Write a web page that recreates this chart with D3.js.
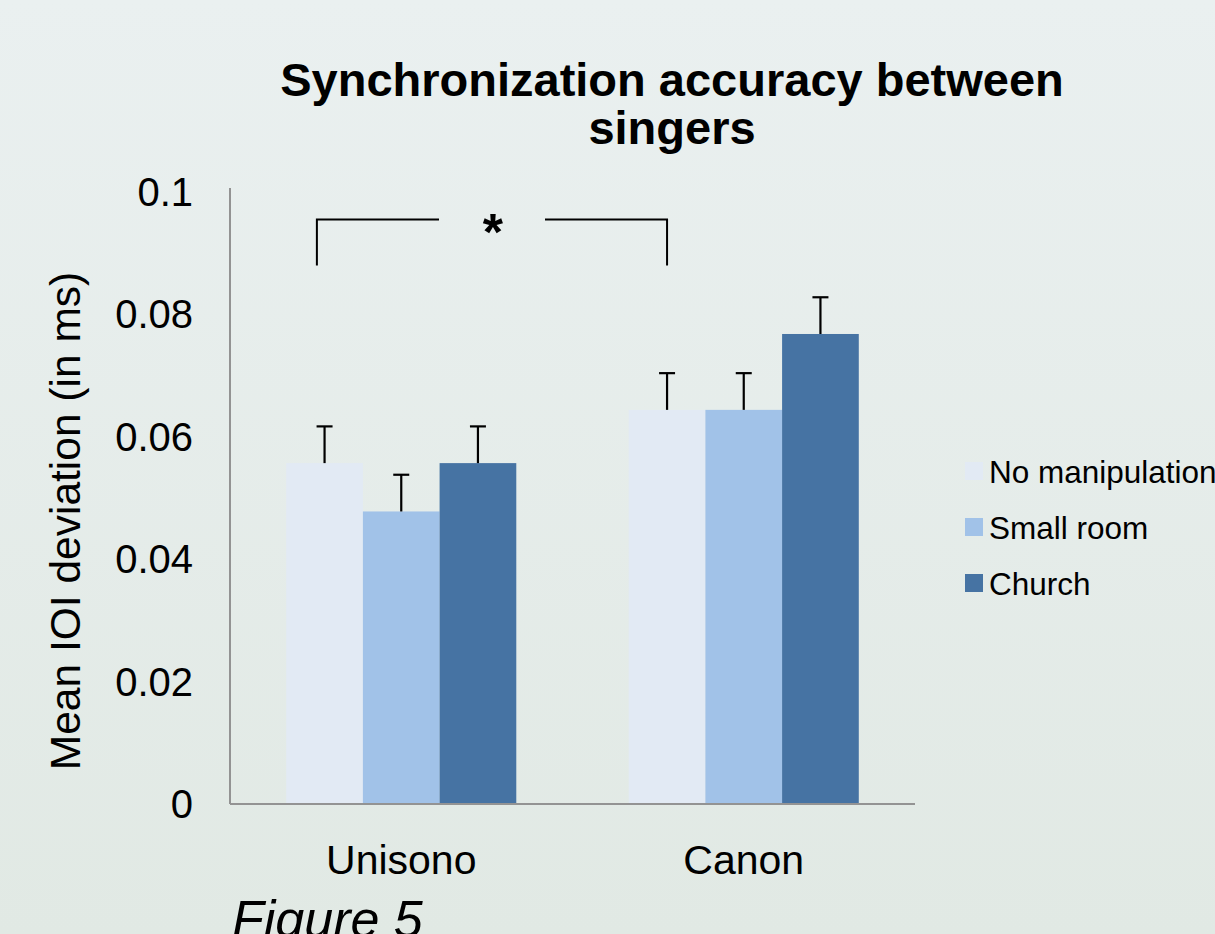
<!DOCTYPE html>
<html>
<head>
<meta charset="utf-8">
<script src="https://cdn.jsdelivr.net/npm/d3@7"></script>
<style>
  html, body { margin: 0; padding: 0; }
  body { width: 1215px; height: 934px; overflow: hidden; }
  svg text { font-family: "Liberation Sans", Arial, sans-serif; fill: #000; }
</style>
</head>
<body>
<svg id="chart" width="1215" height="934"></svg>
<script>
// Chart data
const categories = ["Unisono", "Canon"];
const series = ["No manipulation", "Small room", "Church"];
const unisonoValues = [0.0557, 0.0478, 0.0557];
const canonValues = [0.0644, 0.0644, 0.0768];
const unisonoErrors = [0.006, 0.006, 0.006];
const canonErrors = [0.006, 0.006, 0.006];
const yTicks = [0, 0.02, 0.04, 0.06, 0.08, 0.1];
const yTickLabels = ["0", "0.02", "0.04", "0.06", "0.08", "0.1"];
const seriesColors = ["#e2eaf4", "#a1c2e8", "#4673a3"];

const svg = d3.select("#chart");
const W = 1215, H = 934;

// background
const defs = svg.append("defs");
const grad = defs.append("linearGradient").attr("id", "bg").attr("x1", 0).attr("y1", 0).attr("x2", 0).attr("y2", 1);
grad.append("stop").attr("offset", "0%").attr("stop-color", "#eaf0f0");
grad.append("stop").attr("offset", "100%").attr("stop-color", "#e1e9e4");
svg.append("rect").attr("width", W).attr("height", H).attr("fill", "url(#bg)");

const plot = { left: 230, right: 915, top: 192, bottom: 804 };

const x0 = d3.scaleBand().domain(categories).range([plot.left, plot.right]).padding(0);
const x1 = d3.scaleBand().domain(series).range([0, x0.bandwidth()]).paddingInner(0).paddingOuter(0.733);
const y = d3.scaleLinear().domain([0, 0.1]).range([plot.bottom, plot.top]);
const color = d3.scaleOrdinal().domain(series).range(seriesColors);

const rows = [
  { cat: "Unisono", values: unisonoValues, errors: unisonoErrors },
  { cat: "Canon", values: canonValues, errors: canonErrors }
];
const bars = [];
rows.forEach(r => series.forEach((s, i) => bars.push({ cat: r.cat, series: s, value: r.values[i], err: r.errors[i] })));

// title
const title = svg.append("text").attr("text-anchor", "middle")
  .style("font-size", "47px").style("font-weight", "bold");
title.append("tspan").attr("x", 672).attr("y", 96).text("Synchronization accuracy between");
title.append("tspan").attr("x", 672).attr("y", 144).text("singers");

// bars
const g = svg.append("g");
g.selectAll("rect.bar").data(bars).enter().append("rect")
  .attr("class", "bar")
  .attr("x", d => x0(d.cat) + x1(d.series))
  .attr("y", d => y(d.value))
  .attr("width", x1.bandwidth())
  .attr("height", d => y(0) - y(d.value))
  .attr("fill", d => color(d.series));

// error bars (upper only)
const capW = 16;
const eb = g.selectAll("g.err").data(bars).enter().append("g").attr("class", "err")
  .attr("stroke", "#000").attr("stroke-width", 2.2);
eb.append("line")
  .attr("x1", d => x0(d.cat) + x1(d.series) + x1.bandwidth() / 2)
  .attr("x2", d => x0(d.cat) + x1(d.series) + x1.bandwidth() / 2)
  .attr("y1", d => y(d.value))
  .attr("y2", d => y(d.value + d.err));
eb.append("line")
  .attr("x1", d => x0(d.cat) + x1(d.series) + x1.bandwidth() / 2 - capW / 2)
  .attr("x2", d => x0(d.cat) + x1(d.series) + x1.bandwidth() / 2 + capW / 2)
  .attr("y1", d => y(d.value + d.err))
  .attr("y2", d => y(d.value + d.err));

// axes
const axisG = svg.append("g").attr("stroke", "#939393").attr("stroke-width", 2);
axisG.append("line").attr("x1", plot.left).attr("x2", plot.left).attr("y1", plot.top - 4).attr("y2", plot.bottom);
axisG.append("line").attr("x1", plot.left).attr("x2", plot.right).attr("y1", plot.bottom).attr("y2", plot.bottom);

svg.append("g").selectAll("text").data(yTicks).enter().append("text")
  .attr("x", 193).attr("y", d => y(d) + 14)
  .attr("text-anchor", "end").style("font-size", "40px")
  .text((d, i) => yTickLabels[i]);

svg.append("g").selectAll("text").data(categories).enter().append("text")
  .attr("x", d => x0(d) + x0.bandwidth() / 2).attr("y", 874)
  .attr("text-anchor", "middle").style("font-size", "41px")
  .text(d => d);

svg.append("text")
  .attr("transform", "translate(80,521) rotate(-90)")
  .attr("text-anchor", "middle").style("font-size", "42.5px")
  .text("Mean IOI deviation (in ms)");

// significance bracket
const bL = x0("Unisono") + x1("No manipulation") + x1.bandwidth() * 0.4;
const bR = x0("Canon") + x1("No manipulation") + x1.bandwidth() * 0.5;
const bMid = (bL + bR) / 2;
const bTop = y(0.0955), bBot = y(0.088);
const br = svg.append("g").attr("stroke", "#000").attr("stroke-width", 2).attr("fill", "none");
br.append("path").attr("d", `M${bL},${bBot}V${bTop}H${bMid - 53}`);
br.append("path").attr("d", `M${bMid + 53},${bTop}H${bR}V${bBot}`);
svg.append("text").attr("x", bMid + 1).attr("y", bTop + 30)
  .attr("text-anchor", "middle").style("font-size", "52px").style("font-weight", "bold")
  .text("*");

// legend
const leg = svg.append("g").attr("transform", "translate(965,462)");
const li = leg.selectAll("g").data(series).enter().append("g")
  .attr("transform", (d, i) => `translate(0,${i * 56})`);
li.append("rect").attr("width", 18).attr("height", 18).attr("fill", d => color(d));
li.append("text").attr("x", 24).attr("y", 21).style("font-size", "31.5px").text(d => d);

// figure caption
svg.append("text").attr("x", 232).attr("y", 937)
  .style("font-size", "52px").style("font-style", "italic")
  .text("Figure 5");
</script>
</body>
</html>
